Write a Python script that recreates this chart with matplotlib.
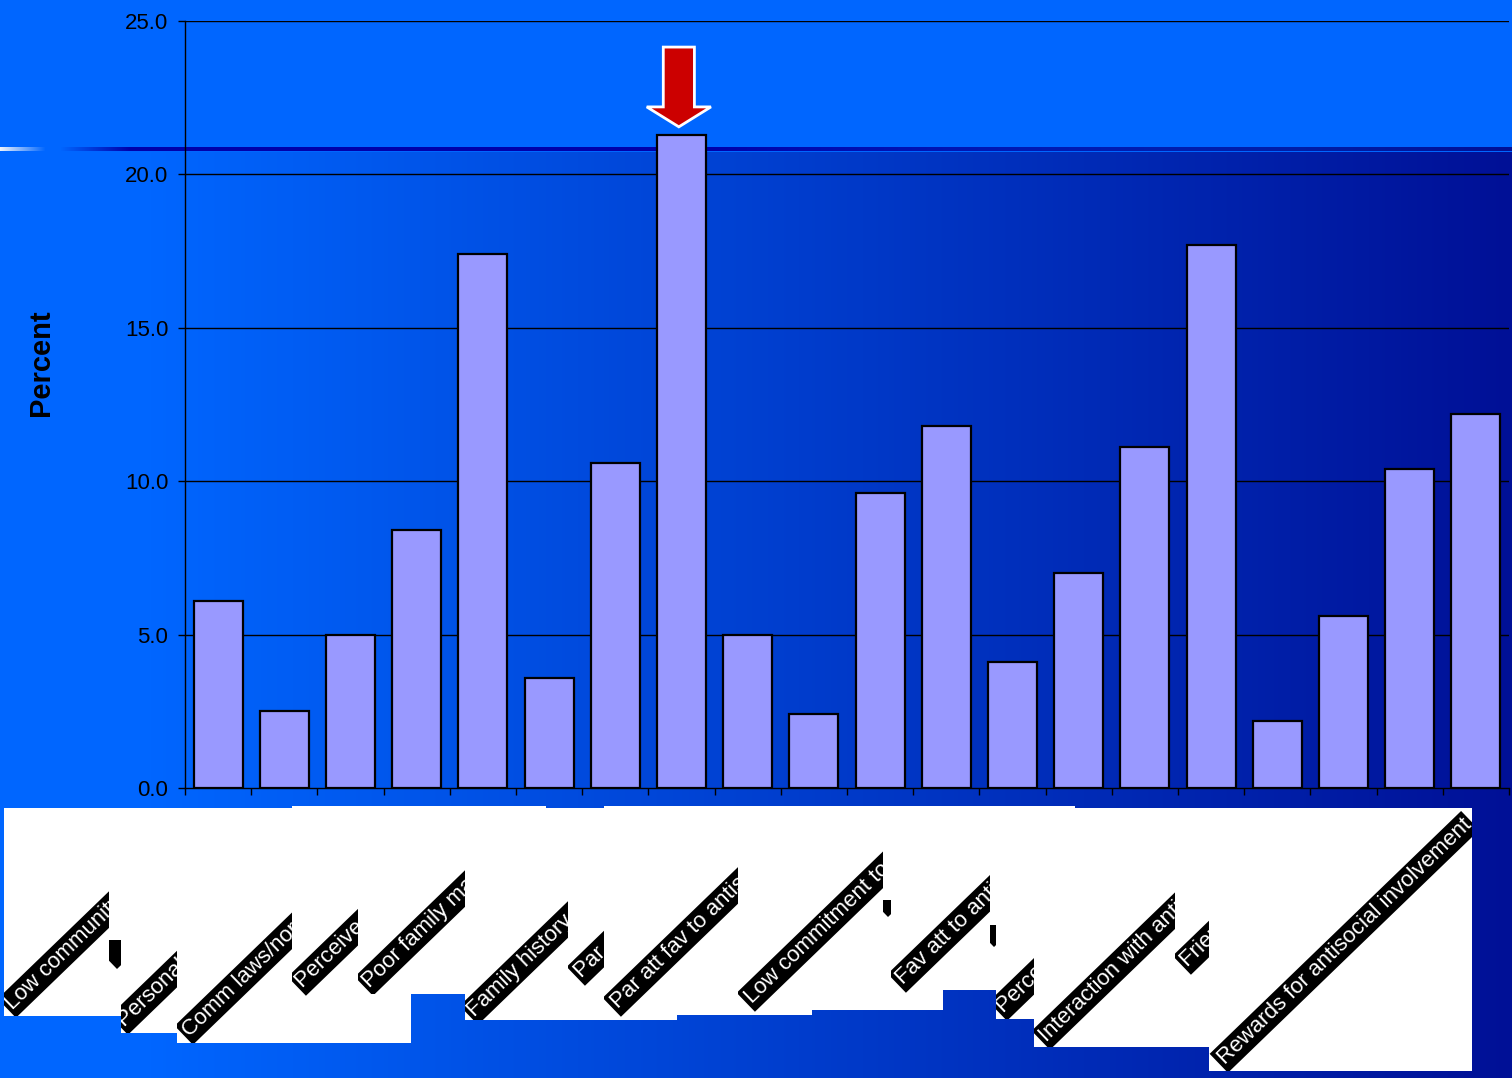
import numpy as np
import matplotlib
matplotlib.use("Agg")
import matplotlib.pyplot as plt
from matplotlib.patches import Rectangle, Polygon

plt.rcParams['font.family'] = ['Liberation Sans', 'DejaVu Sans']

# ---- data -------------------------------------------------------------
percent = [6.1, 2.5, 5.0, 8.4, 17.4, 3.6, 10.6, 21.3, 5.0, 2.4,
           9.6, 11.8, 4.1, 7.0, 11.1, 17.7, 2.2, 5.6, 10.4, 12.2]
y_ticks = [0, 5, 10, 15, 20, 25]
highlight = 7  # bar marked with the red arrow

panel_labels = [
    "Low community attachment",
    "Personal transitions & mobility",
    "Comm laws/norms fav drug use",
    "Perceived availability of drugs",
    "Poor family management",
    "Family history of antisocial beh",
    "Par att fav to drug use",
    "Par att fav to antisocial beh",
    "Low commitment to school",
    "Fav att to antisocial beh",
    "Perceived risk of drug use",
    "Interaction with antisocial peers",
    "Friends' use of drugs",
    "Rewards for antisocial involvement",
]

# ---- layout (pixel coordinates, origin top-left) ----------------------
W, H = 1512, 1078
ANGLE = 44
panel_columns = [
    (4, 121, 808, 1016), (121, 177, 808, 1033), (177, 292, 808, 1043),
    (292, 411, 806, 1043), (411, 465, 806, 994), (465, 546, 806, 1020),
    (546, 604, 808, 1020), (604, 677, 806, 1020), (677, 812, 806, 1015),
    (812, 943, 806, 1010), (943, 996, 806, 990), (996, 1034, 806, 1019),
    (1034, 1075, 806, 1047), (1075, 1209, 808, 1047), (1209, 1472, 808, 1071),
]
band_anchor = [
    (16, 1014), (128, 1031), (193, 1041), (306, 992), (373, 992),
    (478, 1021), (585, 982), (621, 1013), (755, 1008), (906, 989),
    (1007, 1017), (1050, 1046), (1191, 971), (1228, 1069),
]
band_clip = [
    (4, 109, 808, 1016), (121, 177, 808, 1033), (177, 292, 808, 1043),
    (292, 358, 806, 1043), (358, 465, 806, 994), (465, 568, 806, 1020),
    (568, 604, 806, 1020), (604, 738, 806, 1020), (738, 883, 806, 1015),
    (891, 990, 806, 1010), (996, 1034, 806, 1019), (1034, 1175, 806, 1047),
    (1175, 1209, 806, 1047), (1209, 1472, 808, 1071),
]
# short slivers of black band left between the label columns
sliver_anchor = [(117, 969), (888, 917), (994, 947)]
sliver_clip = [(109, 121, 940, 1016), (883, 891, 900, 1015), (990, 996, 925, 1010)]

fig = plt.figure(figsize=(W / 100, H / 100), dpi=100)

# ---- slide background -------------------------------------------------
top_col = np.array([0, 102, 255]) / 255
dark_col = np.array([0, 0, 170]) / 255
right_col = np.array([0, 16, 150]) / 255
xs = np.arange(W)
t = np.clip((xs - 150) / (W - 1 - 150), 0, 1)
lower = (1 - t)[:, None] * top_col + t[:, None] * right_col

img = np.empty((H, W, 3))
img[:152] = top_col
img[152:] = lower

# thin rule under the title band: white fading in on the left, dark blue after
line = np.empty((W, 3))
white = np.array([0.93, 0.95, 0.98])
for i in range(W):
    if i < 45:
        f = i / 45
        line[i] = (1 - f) * white + f * top_col
    elif i < 60:
        line[i] = top_col
    elif i < 130:
        f = (i - 60) / 70
        line[i] = (1 - f) * top_col + f * dark_col
    elif i < 700:
        line[i] = dark_col
    else:
        f = min((i - 700) / 600, 1)
        line[i] = (1 - f) * dark_col + f * lower[i]
img[147:151] = line

bg = fig.add_axes([0, 0, 1, 1], zorder=-10)
bg.imshow(img, extent=(0, W, H, 0), aspect='auto', interpolation='nearest')
bg.set_xlim(0, W)
bg.set_ylim(H, 0)
bg.set_axis_off()

# ---- bar chart ----------------------------------------------------------
ax = fig.add_axes([185 / W, (H - 788) / H, (1509 - 185) / W, (788 - 21) / H])
ax.set_facecolor('none')
x = np.arange(len(percent))
ax.bar(x, percent, width=0.74, color='#9999FF', edgecolor='black',
       linewidth=1.6, zorder=3)
ax.set_xlim(-0.5, len(percent) - 0.5)
ax.set_ylim(0, 25)
for v in y_ticks[1:]:
    ax.axhline(v, color='black', lw=1.0, zorder=1)
ax.set_yticks(y_ticks)
ax.set_yticklabels([f"{v:.1f}" for v in y_ticks])
ax.set_xticks(np.arange(-0.5, len(percent), 1))
ax.set_xticklabels([])
ax.tick_params(axis='both', direction='out', length=5, width=1,
               color='black', labelsize=16, labelcolor='black', pad=7)
for s in ('top', 'right'):
    ax.spines[s].set_visible(False)
for s in ('left', 'bottom'):
    ax.spines[s].set_color('black')
    ax.spines[s].set_linewidth(1)

# red arrow pointing at the highlighted bar
cx = x[highlight] - 0.04
tip = percent[highlight] + 0.25
base = tip + 0.65
top = tip + 2.6
arrow = Polygon([(cx - 0.235, top), (cx + 0.235, top), (cx + 0.235, base),
                 (cx + 0.485, base), (cx, tip), (cx - 0.485, base),
                 (cx - 0.235, base)], closed=True, facecolor='#CC0000',
                edgecolor='white', linewidth=2, clip_on=False, zorder=6)
ax.add_patch(arrow)

fig.text(41 / W, 1 - 363 / H, 'Percent', rotation=90, ha='center',
         va='center', fontsize=21, fontweight='bold', color='black')

# ---- category label panel ----------------------------------------------
ov = fig.add_axes([0, 0, 1, 1], zorder=5)
ov.set_xlim(0, W)
ov.set_ylim(H, 0)
ov.set_axis_off()
ov.patch.set_alpha(0)

for x0, x1, y0, y1 in panel_columns:
    ov.add_patch(Rectangle((x0, y0), x1 - x0, y1 - y0, facecolor='white',
                           edgecolor='none', linewidth=0, antialiased=False))

for label, (axp, ayp), (cx0, cx1, cy0, cy1) in zip(panel_labels, band_anchor, band_clip):
    txt = ov.text(axp, ayp, label, rotation=ANGLE, rotation_mode='anchor',
                  ha='left', va='bottom', color='white', fontsize=16,
                  clip_on=True,
                  bbox=dict(boxstyle='square,pad=0.12', facecolor='black',
                            edgecolor='none'))
    txt.set_clip_path(Rectangle((cx0, cy0), cx1 - cx0, cy1 - cy0,
                                transform=ov.transData))

# slivers: plain black strips at the same slant
a = np.deg2rad(ANGLE)
u = np.array([np.cos(a), -np.sin(a)])
n = np.array([-np.sin(a), -np.cos(a)])
for (px, py), (cx0, cx1, cy0, cy1) in zip(sliver_anchor, sliver_clip):
    p0 = np.array([px, py], dtype=float)
    strip = Polygon([p0, p0 + 120 * u, p0 + 120 * u + 30 * n, p0 + 30 * n],
                    closed=True, facecolor='black', edgecolor='none')
    ov.add_patch(strip)
    strip.set_clip_path(Rectangle((cx0, cy0), cx1 - cx0, cy1 - cy0,
                                  transform=ov.transData))

fig.savefig('out.png', dpi=100)
